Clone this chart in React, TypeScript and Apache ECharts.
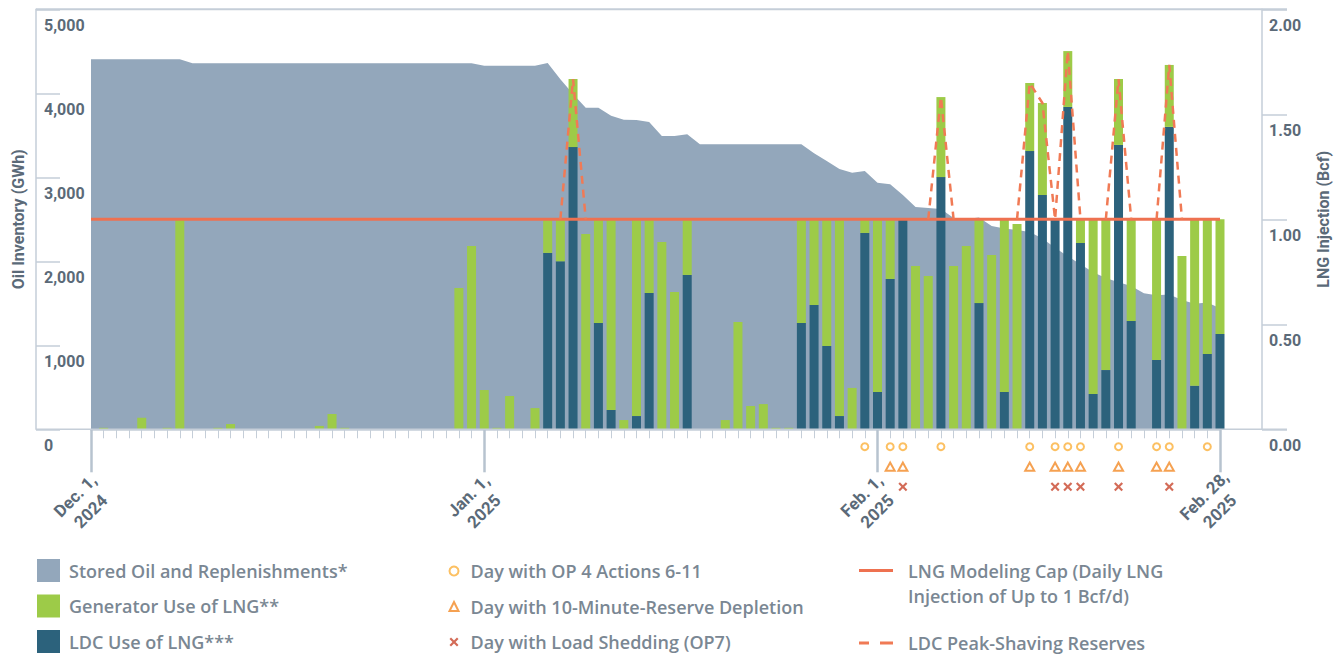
import React, { useEffect, useRef } from 'react';
import * as echarts from 'echarts';

// ---------- categories ----------
const START_UTC = Date.UTC(2024, 11, 1);
const DAY_COUNT = 90;
const days: string[] = Array.from({ length: DAY_COUNT }, (_, i) =>
  new Date(START_UTC + i * 86400000).toISOString().slice(0, 10)
);

const majorTickLabels: Record<string, string> = {
  '2024-12-01': 'Dec. 1,\n2024',
  '2025-01-01': 'Jan. 1,\n2025',
  '2025-02-01': 'Feb. 1,\n2025',
  '2025-02-28': 'Feb. 28,\n2025',
};

// ---------- series values ----------
// Stored oil and replenishments (GWh), left axis
const storedOil = [
  4405, 4405, 4405, 4405, 4405, 4405, 4405, 4405, 4357, 4357,
  4357, 4357, 4357, 4357, 4357, 4357, 4357, 4357, 4357, 4357,
  4357, 4357, 4357, 4357, 4357, 4357, 4357, 4357, 4357, 4357,
  4357, 4329, 4329, 4329, 4329, 4329, 4361, 4167, 3992, 3829,
  3829, 3733, 3686, 3682, 3658, 3492, 3492, 3512, 3393, 3393,
  3393, 3393, 3393, 3393, 3393, 3393, 3393, 3286, 3194, 3099,
  3055, 3075, 2936, 2917, 2789, 2646, 2635, 2623, 2515, 2503,
  2521, 2420, 2390, 2373, 2349, 2270, 2160, 2060, 1965, 1870,
  1800, 1750, 1705, 1620, 1595, 1605, 1540, 1495, 1510, 1440,
];

// Generator use of LNG (Bcf), right axis
const generatorUse = [
  0, 0.007, 0, 0, 0.055, 0, 0.007, 1.0, 0, 0,
  0.007, 0.025, 0, 0, 0, 0, 0, 0, 0.016, 0.073,
  0.007, 0, 0, 0, 0, 0, 0, 0, 0, 0.673,
  0.873, 0.187, 0.007, 0.159, 0, 0.101, 0.16, 0.2, 0.324, 0.93,
  0.494, 0.908, 0.044, 0.937, 0.351, 0.892, 0.654, 0.265, 0, 0,
  0.044, 0.511, 0.111, 0.12, 0.007, 0.007, 0.494, 0.408, 0.603, 0.937,
  0.197, 0.065, 0.822, 0.284, 0, 0.778, 0.73, 0.381, 0.778, 0.873,
  0.399, 0.83, 0.822, 0.978, 0.324, 0.438, 0, 0.266, 0.113, 0.832,
  0.718, 0.314, 0.484, 0, 0.67, 0.295, 0.825, 0.793, 0.641, 0.546,
];

// LDC use of LNG (Bcf), right axis
const ldcUse = [
  0, 0, 0, 0, 0, 0, 0, 0, 0, 0,
  0, 0, 0, 0, 0, 0, 0, 0, 0, 0,
  0, 0, 0, 0, 0, 0, 0, 0, 0, 0,
  0, 0, 0, 0, 0, 0, 0.84, 0.8, 1.344, 0,
  0.506, 0.092, 0, 0.063, 0.649, 0, 0, 0.735, 0, 0,
  0, 0, 0, 0, 0, 0, 0.506, 0.592, 0.397, 0.063,
  0, 0.935, 0.178, 0.716, 1.0, 0, 0, 1.201, 0, 0,
  0.601, 0, 0.178, 0, 1.325, 1.116, 1.0, 1.535, 0.887, 0.168,
  0.282, 1.354, 0.516, 0, 0.33, 1.44, 0, 0.207, 0.359, 0.454,
];

// LNG modeling cap (Bcf/d)
const lngCap = 1.0;

// LDC peak-shaving reserves (Bcf): [date, value]
const peakShaving: [string, number][] = [
  ['2025-01-07', 1.0], ['2025-01-08', 1.668], ['2025-01-09', 1.0],
  ['2025-02-05', 1.0], ['2025-02-06', 1.582], ['2025-02-07', 1.0],
  ['2025-02-12', 1.0], ['2025-02-13', 1.649], ['2025-02-14', 1.554],
  ['2025-02-15', 1.0], ['2025-02-16', 1.801], ['2025-02-17', 1.0],
  ['2025-02-19', 1.0], ['2025-02-20', 1.668], ['2025-02-21', 1.0],
  ['2025-02-23', 1.0], ['2025-02-24', 1.735], ['2025-02-25', 1.0],
];

// Event days
const op4Days = [
  '2025-01-31', '2025-02-02', '2025-02-03', '2025-02-06', '2025-02-13', '2025-02-15',
  '2025-02-16', '2025-02-17', '2025-02-20', '2025-02-23', '2025-02-24', '2025-02-27',
];
const reserveDepletionDays = [
  '2025-02-02', '2025-02-03', '2025-02-13', '2025-02-15', '2025-02-16',
  '2025-02-17', '2025-02-20', '2025-02-23', '2025-02-24',
];
const loadSheddingDays = [
  '2025-02-03', '2025-02-15', '2025-02-16', '2025-02-17', '2025-02-20', '2025-02-24',
];

// ---------- names & styles ----------
const N_OIL = 'Stored Oil and Replenishments*';
const N_GEN = 'Generator Use of LNG**';
const N_LDC = 'LDC Use of LNG***';
const N_OP4 = 'Day with OP 4 Actions 6-11';
const N_RES = 'Day with 10-Minute-Reserve Depletion';
const N_SHED = 'Day with Load Shedding (OP7)';
const N_CAP = 'LNG Modeling Cap (Daily LNG Injection of Up to 1 Bcf/d)';
const N_PEAK = 'LDC Peak-Shaving Reserves';

const C_AREA = '#93A7BB';
const C_GREEN = '#9DCB48';
const C_DARK = '#2C627C';
const C_RED = '#EE7150';
const C_RED_DASH = '#F07A55';
const C_CIRCLE = '#FBB03B';
const C_TRI = '#F28A26';
const C_X = '#C8462D';
const C_AXIS = '#C5CED8';
const C_LABEL = '#5B6A78';
const C_LEGEND = '#7A8793';
const FONT = 'Roboto, "Noto Sans", sans-serif';
const LEGEND_FONT = '"Open Sans", Roboto, sans-serif';

const X_SYMBOL =
  'path://M0,1.7L1.7,0L5,3.3L8.3,0L10,1.7L6.7,5L10,8.3L8.3,10L5,6.7L1.7,10L0,8.3L3.3,5Z';
const CAP_ICON = 'path://M0,0H34V3H0Z M0,27.9H0.05V28H0Z';
const DASH_ICON = 'path://M0,0H10V3H0Z M21,0H34V3H21Z';

const isMajor = (_i: number, v: string) => v in majorTickLabels;

function buildOption(): any {
  const peakMap = new Map(peakShaving);
  const peakData = days.map((d) => (peakMap.has(d) ? peakMap.get(d)! : null));
  const axisLabelBase = { color: C_LABEL, fontSize: 16, fontWeight: 'bold', fontFamily: FONT };
  const legendText = { fontSize: 18, color: C_LEGEND, fontWeight: 600, fontFamily: LEGEND_FONT };
  const legendBase = { orient: 'vertical', padding: 0, selectedMode: false, height: 120 };

  return {
    animation: false,
    backgroundColor: '#ffffff',
    textStyle: { fontFamily: FONT },
    grid: [
      { left: 91, right: 122, top: 9.3, height: 420 },
      { left: 91, right: 122, top: 426.7, height: 80 },
    ],
    xAxis: [
      {
        gridIndex: 0, type: 'category', data: days, boundaryGap: false, position: 'bottom',
        axisLine: { show: true, lineStyle: { color: C_AXIS, width: 1.5 } },
        axisTick: { show: true, interval: 0, length: 9, lineStyle: { color: C_AXIS, width: 1 } },
        axisLabel: { show: false },
        splitLine: { show: false },
      },
      {
        gridIndex: 0, type: 'category', data: days, boundaryGap: false, position: 'bottom',
        axisLine: { show: false },
        axisTick: { show: true, interval: isMajor, length: 43, lineStyle: { color: '#B7C3CF', width: 2.5 } },
        axisLabel: {
          ...axisLabelBase,
          fontSize: 17,
          show: true, interval: isMajor,
          formatter: (v: string) => majorTickLabels[v] ?? '',
          rotate: 45, align: 'center', verticalAlign: 'middle',
          margin: 66, padding: [0, 23, 0, 0], lineHeight: 22,
        },
        splitLine: { show: false },
      },
      { gridIndex: 1, type: 'category', data: days, boundaryGap: false, show: false },
    ],
    yAxis: [
      {
        gridIndex: 0, type: 'value', min: 0, max: 5000, interval: 1000, position: 'left', offset: 55,
        axisLine: { show: true, lineStyle: { color: C_AXIS, width: 1.5 } },
        axisTick: { show: true, inside: true, length: 24, lineStyle: { color: C_AXIS, width: 1.5 } },
        axisLabel: {
          ...axisLabelBase, inside: true, margin: 8, verticalAlign: 'top', padding: [8, 0, 0, 0],
          formatter: (v: number) => v.toLocaleString('en-US'),
        },
        splitLine: { show: false },
        name: 'Oil Inventory (GWh)', nameLocation: 'middle', nameGap: 10, nameRotate: 90,
        nameTextStyle: { ...axisLabelBase, fontSize: 16 },
      },
      {
        gridIndex: 0, type: 'value', min: 0, max: 2, interval: 0.5, position: 'right', offset: 42,
        axisLine: { show: true, lineStyle: { color: C_AXIS, width: 1.5 } },
        axisTick: { show: true, inside: false, length: 25, lineStyle: { color: C_AXIS, width: 1.5 } },
        axisLabel: {
          ...axisLabelBase, margin: 7, verticalAlign: 'top', padding: [8, 0, 0, 0],
          formatter: (v: number) => v.toFixed(2),
        },
        splitLine: { show: false },
        name: 'LNG Injection (Bcf)', nameLocation: 'middle', nameGap: 53, nameRotate: 90,
        nameTextStyle: { ...axisLabelBase, fontSize: 16 },
      },
      { gridIndex: 1, type: 'value', min: 0, max: 4, show: false },
    ],
    legend: [
      {
        ...legendBase,
        data: [
          { name: N_OIL, icon: 'rect' },
          { name: N_GEN, icon: 'rect' },
          { name: N_LDC, icon: 'rect' },
        ],
        left: 37, top: 559, itemWidth: 23, itemHeight: 23, itemGap: 12.5,
        itemStyle: { borderWidth: 0 },
        textStyle: { ...legendText, padding: [0, 0, 0, 4] },
      },
      {
        ...legendBase,
        data: [N_OP4, N_RES, N_SHED],
        left: 448.5, top: 562, itemWidth: 9, itemHeight: 9, itemGap: 17.5,
        textStyle: { ...legendText, padding: [0, 0, 0, 7] },
      },
      {
        ...legendBase,
        data: [{ name: N_CAP, icon: CAP_ICON }],
        left: 859, top: 558, itemWidth: 34, itemHeight: 28,
        itemStyle: { borderWidth: 0 },
        formatter: () => 'LNG Modeling Cap (Daily LNG\nInjection of Up to 1 Bcf/d)',
        textStyle: { ...legendText, lineHeight: 25, padding: [0, 0, 0, 10] },
      },
      {
        ...legendBase,
        height: 30,
        data: [{ name: N_PEAK, icon: DASH_ICON }],
        left: 859, top: 634, itemWidth: 34, itemHeight: 3,
        itemStyle: { borderWidth: 0 },
        textStyle: { ...legendText, padding: [0, 0, 0, 10] },
      },
    ],
    graphic: [
      { type: 'line', silent: true, z: 10, shape: { x1: 36, y1: 9.3, x2: 1287, y2: 9.3 }, style: { stroke: C_AXIS, lineWidth: 2 } },
      { type: 'line', silent: true, z: 10, shape: { x1: 36, y1: 429.3, x2: 1287, y2: 429.3 }, style: { stroke: C_AXIS, lineWidth: 1.5 } },
    ],
    series: [
      {
        name: N_OIL, type: 'line', xAxisIndex: 0, yAxisIndex: 0, data: storedOil,
        symbol: 'none', color: C_AREA, lineStyle: { width: 0, color: C_AREA },
        areaStyle: { color: C_AREA, opacity: 1 }, z: 1,
      },
      {
        name: N_LDC, type: 'bar', xAxisIndex: 0, yAxisIndex: 1, stack: 'lng', data: ldcUse,
        barWidth: 9, color: C_DARK, itemStyle: { color: C_DARK }, z: 2,
      },
      {
        name: N_GEN, type: 'bar', xAxisIndex: 0, yAxisIndex: 1, stack: 'lng', data: generatorUse,
        barWidth: 9, color: C_GREEN, itemStyle: { color: C_GREEN }, z: 2,
      },
      {
        name: N_CAP, type: 'line', xAxisIndex: 0, yAxisIndex: 1,
        data: [[days[0], lngCap], [days[days.length - 1], lngCap]],
        symbol: 'none', color: C_RED, lineStyle: { color: C_RED, width: 3 }, z: 4,
      },
      {
        name: N_PEAK, type: 'line', xAxisIndex: 0, yAxisIndex: 1, data: peakData,
        connectNulls: false, symbol: 'none', color: C_RED_DASH,
        lineStyle: { color: C_RED_DASH, width: 2.5, type: [8, 6] }, z: 5,
      },
      {
        name: N_OP4, type: 'scatter', xAxisIndex: 2, yAxisIndex: 2,
        data: op4Days.map((d) => [d, 3]),
        symbol: 'emptyCircle', symbolSize: 7, color: C_CIRCLE,
        itemStyle: { color: C_CIRCLE, borderColor: C_CIRCLE, borderWidth: 2 },
      },
      {
        name: N_RES, type: 'scatter', xAxisIndex: 2, yAxisIndex: 2,
        data: reserveDepletionDays.map((d) => [d, 2]),
        symbol: 'emptyTriangle', symbolSize: [9, 8], color: C_TRI,
        itemStyle: { color: C_TRI, borderColor: C_TRI, borderWidth: 2 },
      },
      {
        name: N_SHED, type: 'scatter', xAxisIndex: 2, yAxisIndex: 2,
        data: loadSheddingDays.map((d) => [d, 1]),
        symbol: X_SYMBOL, symbolSize: 9, color: C_X,
        itemStyle: { color: C_X },
      },
    ],
  };
}

export default function App() {
  const ref = useRef<HTMLDivElement>(null);
  useEffect(() => {
    if (!ref.current) return;
    const chart = echarts.init(ref.current, undefined, { renderer: 'svg' });
    chart.setOption(buildOption());
    return () => chart.dispose();
  }, []);
  return (
    <div
      ref={ref}
      style={{ position: 'absolute', left: 0, top: 0, width: 1342, height: 658, background: '#fff' }}
    />
  );
}
